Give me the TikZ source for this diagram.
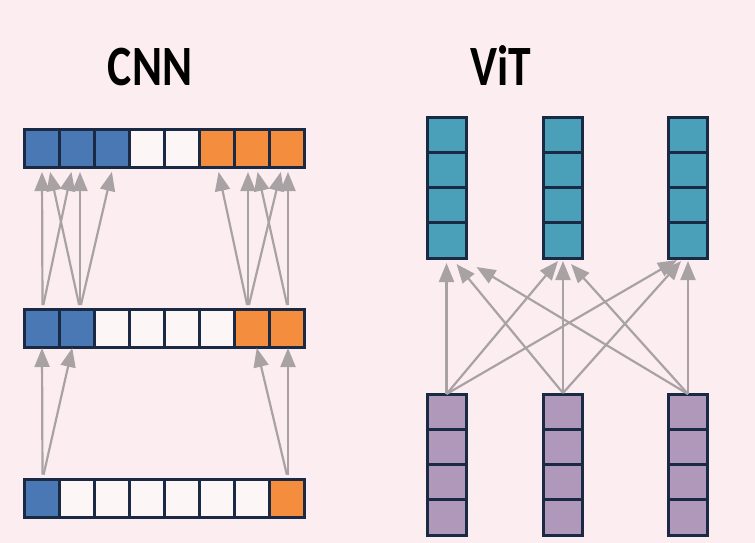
\documentclass[tikz,border=0pt]{standalone}
\usepackage{fontspec}
\newfontfamily\titlefont{Carlito}
\usetikzlibrary{arrows.meta}

\definecolor{bgpink}{HTML}{FCEEF0}
\definecolor{cellblue}{HTML}{4A78B4}
\definecolor{cellorange}{HTML}{F48D3E}
\definecolor{cellwhite}{HTML}{FDF6F7}
\definecolor{cellteal}{HTML}{4AA0B9}
\definecolor{cellpurple}{HTML}{B098BA}
\definecolor{edgenavy}{HTML}{1A2A45}
\definecolor{arrowgray}{HTML}{A8A2A4}

\begin{document}
\begin{tikzpicture}[x=1pt,y=-1pt]
	\tikzstyle{cell}=[draw=edgenavy,line width=3pt,inner sep=0pt,outer sep=0pt,minimum width=35pt,minimum height=38pt];
	\tikzstyle{token}=[cell,minimum width=39pt,minimum height=35.25pt];
	\tikzstyle{link}=[draw=arrowgray,line width=2.2pt,-{Triangle[length=19pt,width=15pt]}];
	\tikzstyle{title}=[font=\titlefont\bfseries\fontsize{57}{60}\selectfont,anchor=base,inner sep=0pt,xscale=0.8];

	\fill[bgpink] (0,0) rectangle (755,543);
	\useasboundingbox (0,0) rectangle (755,543);

	% CNN: three feature rows
	\foreach \c [count=\i] in {cellblue,cellblue,cellblue,cellwhite,cellwhite,cellorange,cellorange,cellorange}
		\node[cell,fill=\c] (t\i) at (7+35*\i,148) {};
	\foreach \c [count=\i] in {cellblue,cellblue,cellwhite,cellwhite,cellwhite,cellwhite,cellorange,cellorange}
		\node[cell,fill=\c] (m\i) at (7+35*\i,328) {};
	\foreach \c [count=\i] in {cellblue,cellwhite,cellwhite,cellwhite,cellwhite,cellwhite,cellwhite,cellorange}
		\node[cell,fill=\c] (b\i) at (7+35*\i,498.5) {};

	% ViT: token columns
	\foreach \x [count=\i] in {446.5,563,688}
		\foreach \j in {1,...,4} {
			\node[token,fill=cellteal] (v\i-\j) at (\x,117+35.25*\j-17.6) {};
			\node[token,fill=cellpurple] (p\i-\j) at (\x,394+35.25*\j-17.6) {};
		}

	\node[title] (cnn) at (150,85) {CNN};
	\node[title] (vit) at (501,85) {ViT};

	% CNN receptive fields
	\draw[link,shorten <=4pt,shorten >=5pt] ([xshift=0.5pt]m1.north) -- (t1.south);
	\draw[link,shorten <=4pt,shorten >=5pt] ([xshift=0.5pt]m1.north) -- ([xshift=-4.5pt]t2.south);
	\draw[link,shorten <=4pt,shorten >=5pt] ([xshift=3pt]m2.north) -- ([xshift=7pt]t1.south);
	\draw[link,shorten <=4pt,shorten >=5pt] ([xshift=3pt]m2.north) -- ([xshift=3pt]t2.south);
	\draw[link,shorten <=4pt,shorten >=5pt] ([xshift=3pt]m2.north) -- ([xshift=1pt]t3.south);
	\draw[link,shorten <=4pt,shorten >=5pt] ([xshift=-4pt]m7.north) -- ([xshift=0.5pt]t6.south);
	\draw[link,shorten <=4pt,shorten >=5pt] ([xshift=-4pt]m7.north) -- ([xshift=-4pt]t7.south);
	\draw[link,shorten <=4pt,shorten >=5pt] ([xshift=-4pt]m7.north) -- ([xshift=-5pt]t8.south);
	\draw[link,shorten <=4pt,shorten >=5pt] ([xshift=1pt]m8.north) -- ([xshift=4.5pt]t7.south);
	\draw[link,shorten <=4pt,shorten >=5pt] ([xshift=1pt]m8.north) -- ([xshift=1pt]t8.south);
	\draw[link,shorten <=5pt,shorten >=1pt] ([xshift=0.5pt]b1.north) -- (m1.south);
	\draw[link,shorten <=5pt,shorten >=1pt] ([xshift=0.5pt]b1.north) -- ([xshift=-4.5pt]m2.south);
	\draw[link,shorten <=5pt,shorten >=1pt] ([xshift=1pt]b8.north) -- ([xshift=1pt]m8.south);
	\draw[link,shorten <=5pt,shorten >=1pt] ([xshift=1pt]b8.north) -- ([xshift=4.5pt]m7.south);

	% ViT global attention
	\draw[link] (p1-1.north) -- ([yshift=-5pt]v1-4.south);
	\draw[link] (p1-1.north) -- ([xshift=-5pt,yshift=-3pt]v2-4.south);
	\draw[link] (p1-1.north) -- ([xshift=-11pt,yshift=-2pt]v3-4.south);
	\draw[link] ([yshift=1pt]p2-1.north) -- ([xshift=10pt,yshift=-6pt]v1-4.south);
	\draw[link] ([yshift=1pt]p2-1.north) -- ([yshift=-3pt]v2-4.south);
	\draw[link] ([yshift=1pt]p2-1.north) -- ([xshift=-7pt,yshift=-3pt]v3-4.south);
	\draw[link] (p3-1.north) -- ([xshift=30pt,yshift=-9pt]v1-4.south);
	\draw[link] (p3-1.north) -- ([xshift=8pt,yshift=-6pt]v2-4.south);
	\draw[link] (p3-1.north) -- ([yshift=-3pt]v3-4.south);
\end{tikzpicture}
\end{document}
